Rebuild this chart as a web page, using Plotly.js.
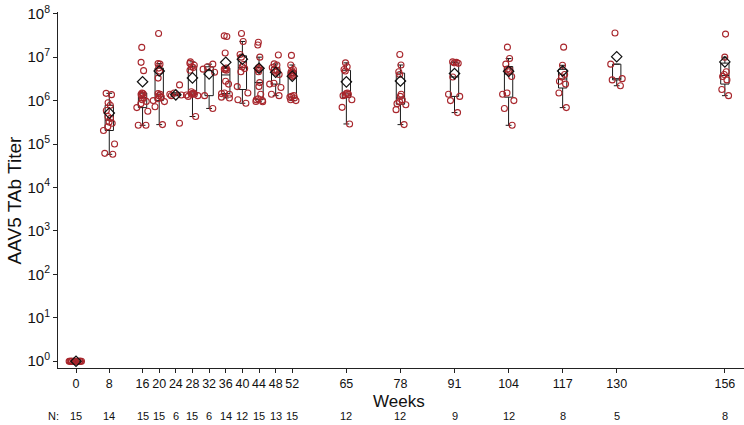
<!DOCTYPE html>
<html><head><meta charset="utf-8">
<script src="https://cdn.plot.ly/plotly-3.0.1.min.js"></script>
<style>html,body{margin:0;padding:0;background:#fff}#chart{width:744px;height:425px}</style>
</head><body><div id="chart"></div>
<script>
// Study weeks (x categories placed on a numeric axis)
const weeks = [0, 8, 16, 20, 24, 28, 32, 36, 40, 44, 48, 52, 65, 78, 91, 104, 117, 130, 156];

// AAV5 TAb titer per subject
const titer_w0   = [1,1,1,1,1,1,1,1,1,1,1,1,1,1,1];
const titer_w8   = [1.47e6,1.37e6,8.9e5,7.8e5,5.9e5,4.3e5,3.9e5,3.2e5,3.0e5,2.5e5,2.05e5,1.0e5,6.1e4,5.8e4];
const titer_w16  = [1.68e7,7.6e6,4.9e6,1.5e6,1.45e6,1.4e6,1.3e6,1.17e6,1.05e6,9.6e5,8.5e5,6.9e5,5.7e5,2.7e5,2.7e5];
const titer_w20  = [3.5e7,7.1e6,6.9e6,5.6e6,4.8e6,3.3e6,1.45e6,1.4e6,1.3e6,1.2e6,1.1e6,1.0e6,9.5e5,7.2e5,2.8e5];
const titer_w24  = [2.3e6,1.5e6,1.4e6,1.35e6,1.3e6,3.0e5];
const titer_w28  = [7.8e6,7.2e6,6.5e6,6.0e6,5.8e6,5.0e6,1.6e6,1.5e6,1.45e6,1.4e6,1.4e6,1.35e6,1.3e6,1.25e6,4.3e5];
const titer_w32  = [6.9e6,6.0e6,5.3e6,4.5e6,1.3e6,6.6e5];
const titer_w36  = [3.1e7,3.0e7,1.25e7,5.6e6,5.3e6,5.2e6,5.0e6,2.8e6,2.4e6,1.5e6,1.45e6,1.4e6,1.2e6,1.15e6];
const titer_w40  = [3.5e7,2.3e7,1.15e7,1.0e7,6.8e6,6.0e6,5.5e6,4.6e6,2.1e6,1.5e6,1.05e6,8.7e5];
const titer_w44  = [2.2e7,1.9e7,1.0e7,5.8e6,5.5e6,5.2e6,4.6e6,2.6e6,2.1e6,1.4e6,1.1e6,1.05e6,1.0e6,9.6e5,9.4e5];
const titer_w48  = [1.12e7,7.0e6,6.6e6,5.8e6,5.0e6,4.8e6,4.5e6,4.0e6,2.5e6,2.4e6,2.0e6,1.4e6,1.3e6];
const titer_w52  = [1.1e7,6.6e6,5.2e6,4.9e6,4.5e6,4.2e6,4.0e6,3.8e6,3.6e6,1.3e6,1.25e6,1.2e6,1.15e6,1.05e6,1.0e6];
const titer_w65  = [7.4e6,6.0e6,5.2e6,4.8e6,1.5e6,1.45e6,1.4e6,1.35e6,1.3e6,1.05e6,7.0e5,2.9e5];
const titer_w78  = [1.15e7,6.6e6,4.6e6,4.0e6,1.4e6,1.25e6,1.05e6,9.5e5,8.5e5,8.0e5,6.2e5,2.8e5];
const titer_w91  = [7.8e6,7.6e6,7.4e6,7.2e6,3.5e6,1.4e6,1.25e6,1.0e6,5.3e5];
const titer_w104 = [1.7e7,9.3e6,6.9e6,5.3e6,5.0e6,4.6e6,3.6e6,1.5e6,1.4e6,1.0e6,6.6e5,2.7e5];
const titer_w117 = [1.7e7,6.5e6,4.0e6,3.5e6,2.8e6,2.4e6,1.5e6,6.9e5];
const titer_w130 = [3.6e7,6.9e6,3.2e6,3.0e6,2.2e6];
const titer_w156 = [3.4e7,1.0e7,4.6e6,4.0e6,3.6e6,3.0e6,1.8e6,1.3e6];

const series = [titer_w0,titer_w8,titer_w16,titer_w20,titer_w24,titer_w28,titer_w32,titer_w36,
  titer_w40,titer_w44,titer_w48,titer_w52,titer_w65,titer_w78,titer_w91,titer_w104,titer_w117,titer_w130,titer_w156];

const yTickVals = [1,1e1,1e2,1e3,1e4,1e5,1e6,1e7,1e8];
const yTickText = ['10<sup>0</sup>','10<sup>1</sup>','10<sup>2</sup>','10<sup>3</sup>','10<sup>4</sup>','10<sup>5</sup>','10<sup>6</sup>','10<sup>7</sup>','10<sup>8</sup>'];

const FONT = 'Liberation Sans, Arial, sans-serif';
const RED = '#a8262c';
const traces = [];
const means = [];

series.forEach((vals, i) => {
  const xs = vals.map(() => weeks[i]);
  const qm = (vals.length % 4 === 1) ? 'inclusive' : 'exclusive';
  // visible box
  traces.push({
    type: 'box', x: xs, y: vals, width: 2.0, quartilemethod: qm,
    boxpoints: 'all', jitter: 0, pointpos: 0,
    marker: {opacity: 0, size: 1},
    line: {color: '#1a1a1a', width: 1},
    fillcolor: 'rgba(255,255,255,0)', whiskerwidth: 0.7,
    hoverinfo: 'skip', showlegend: false
  });
  // individual subjects (jittered by plotly)
  traces.push({
    type: 'box', x: xs, y: vals, width: 3.4, quartilemethod: qm,
    boxpoints: 'all', jitter: 1, pointpos: 0,
    marker: {symbol: 'circle-open', size: 6, color: RED, line: {width: 1.1}},
    line: {color: 'rgba(0,0,0,0)', width: 0},
    fillcolor: 'rgba(0,0,0,0)',
    hoverinfo: 'skip', showlegend: false
  });
  means.push(vals.reduce((a, b) => a + b, 0) / vals.length);
});

traces.push({
  type: 'scatter', mode: 'markers', x: weeks, y: means,
  marker: {symbol: 'diamond-open', size: 8, color: '#111', line: {width: 1.2}},
  hoverinfo: 'skip', showlegend: false
});

const annotations = [
  {text: 'AAV5 TAb Titer', xref: 'paper', yref: 'paper', x: -0.063, y: 0.47, textangle: -90,
   showarrow: false, font: {family: FONT, size: 19, color: '#111'}, xanchor: 'center', yanchor: 'middle'},
  {text: 'Weeks', xref: 'paper', yref: 'paper', x: 0.497, y: -0.094, showarrow: false,
   font: {family: FONT, size: 17, color: '#111'}, xanchor: 'center', yanchor: 'middle'},
  {text: 'N:', xref: 'paper', yref: 'paper', x: 0.004, y: -0.136, showarrow: false,
   font: {family: FONT, size: 11, color: '#111'}, xanchor: 'right', yanchor: 'middle'}
];
weeks.forEach((w, i) => {
  annotations.push({text: String(series[i].length), xref: 'x', yref: 'paper', x: w, y: -0.136,
    showarrow: false, font: {family: FONT, size: 11, color: '#111'}, xanchor: 'center', yanchor: 'middle'});
});

const layout = {
  width: 744, height: 425,
  margin: {l: 58, r: 0, t: 12, b: 57},
  paper_bgcolor: '#fff', plot_bgcolor: '#fff',
  font: {family: FONT, color: '#111'},
  boxmode: 'overlay',
  showlegend: false,
  xaxis: {
    range: [-4.33, 160.6], tickmode: 'array', tickvals: weeks, ticktext: weeks.map(String),
    showgrid: false, zeroline: false, showline: true, linecolor: '#222', linewidth: 1,
    ticks: 'outside', ticklen: 4, tickcolor: '#222', tickfont: {family: FONT, size: 12.5, color: '#111'}
  },
  yaxis: {
    type: 'log', range: [-0.156, 8.04], tickmode: 'array', tickvals: yTickVals, ticktext: yTickText,
    showgrid: false, zeroline: false, showline: true, linecolor: '#222', linewidth: 1,
    ticks: 'outside', ticklen: 4, tickcolor: '#222', tickfont: {family: FONT, size: 15, color: '#111'}
  },
  annotations: annotations
};

Plotly.newPlot('chart', traces, layout, {displayModeBar: false, staticPlot: true});
</script>
</body></html>
